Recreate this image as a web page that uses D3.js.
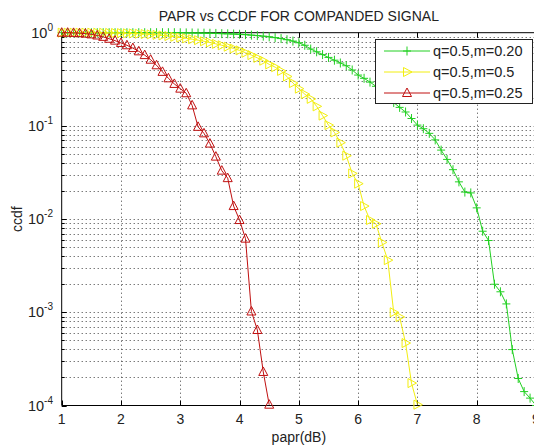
<!DOCTYPE html>
<html><head><meta charset="utf-8">
<script src="https://cdn.jsdelivr.net/npm/d3@7"></script>
<style>
html,body{margin:0;padding:0;background:#fff;overflow:hidden;}
svg{display:block;font-family:"Liberation Sans",Arial,sans-serif;}
</style></head>
<body><svg id="chart" width="534" height="445"></svg>
<script>
// ---- data ----
const titleText = "PAPR vs CCDF FOR COMPANDED SIGNAL";
const xLabelText = "papr(dB)";
const yLabelText = "ccdf";
const xTickValues = [1,2,3,4,5,6,7,8,9];
const yTickExponents = [0,-1,-2,-3,-4];
const seriesNames = ["q=0.5,m=0.20","q=0.5,m=0.5","q=0.5,m=0.25"];

const paprDb = [1.0,1.1,1.2,1.3,1.4,1.5,1.6,1.7,1.8,1.9,
  2.0,2.1,2.2,2.3,2.4,2.5,2.6,2.7,2.8,2.9,
  3.0,3.1,3.2,3.3,3.4,3.5,3.6,3.7,3.8,3.9,
  4.0,4.1,4.2,4.3,4.4,4.5,4.6,4.7,4.8,4.9,
  5.0,5.1,5.2,5.3,5.4,5.5,5.6,5.7,5.8,5.9,
  6.0,6.1,6.2,6.3,6.4,6.5,6.6,6.7,6.8,6.9,
  7.0,7.1,7.2,7.3,7.4,7.5,7.6,7.7,7.8,7.9,
  8.0,8.1,8.2,8.3,8.4,8.5,8.6,8.7,8.8,8.9,9.0];

const ccdfM020 = [1,1,1,1,1,1,1,1,1,1,
  1,1,1,1,1,1,1,1,1,1,
  0.998,0.995,0.993,0.991,0.989,0.986,0.982,0.977,0.973,0.968,
  0.962,0.953,0.942,0.931,0.918,0.904,0.885,0.865,0.841,0.813,
  0.780,0.733,0.668,0.624,0.582,0.543,0.507,0.473,0.442,0.398,
  0.351,0.324,0.295,0.266,0.229,0.200,0.178,0.158,0.141,0.120,
  0.102,0.0933,0.0832,0.0708,0.0550,0.0437,0.0339,0.0251,0.0195,0.0191,
  0.0132,0.00741,0.00589,0.00200,0.00166,0.00123,0.000398,0.000195,0.000141,0.000120,
  0.000100];

const ccdfM05 = [1,1,1,1,1,1,0.998,0.998,0.995,0.993,
  0.991,0.986,0.982,0.975,0.968,0.959,0.948,0.935,0.920,0.904,
  0.887,0.871,0.851,0.832,0.809,0.785,0.759,0.733,0.708,0.676,
  0.646,0.610,0.575,0.537,0.501,0.457,0.427,0.389,0.339,0.288,
  0.251,0.219,0.195,0.162,0.129,0.102,0.0851,0.0661,0.0479,0.0309,
  0.0240,0.0138,0.00977,0.00891,0.00562,0.00363,0.00100,0.000891,0.000468,0.000174,
  0.000102];

const ccdfM025 = [1,1,0.995,0.989,0.977,0.959,0.933,0.902,0.861,0.822,
  0.776,0.733,0.684,0.631,0.575,0.513,0.447,0.380,0.324,0.282,
  0.251,0.224,0.166,0.0977,0.0832,0.0646,0.0468,0.0331,0.0275,0.0138,
  0.00977,0.00617,0.00102,0.000646,0.000229,0.000102];

// ---- layout ----
const svg = d3.select("#chart");
const L = 61.7, R = 536, T = 32.7, B = 405.5;
const x = d3.scaleLinear().domain([1,9]).range([L,R]);
const y = d3.scaleLog().domain([1e-4,1]).range([B,T]);

const seriesDefs = [
  {name: seriesNames[0], values: ccdfM020, color: "#22d022", marker: "plus"},
  {name: seriesNames[1], values: ccdfM05,  color: "#f2ee10", marker: "right"},
  {name: seriesNames[2], values: ccdfM025, color: "#c01010", marker: "up"}
];

// grid
const grid = svg.append("g").attr("stroke","#111").attr("stroke-width",1)
  .attr("stroke-dasharray","1,3").attr("opacity",0.8);
xTickValues.slice(1).forEach(v=>{
  grid.append("line").attr("x1",Math.round(x(v))+0.5).attr("x2",Math.round(x(v))+0.5)
    .attr("y1",T).attr("y2",B);
});
const yGridVals = [];
for (let e=-4;e<0;e++) for (let m=1;m<=9;m++) yGridVals.push(m*Math.pow(10,e));
yGridVals.filter(v=>v>1e-4).forEach(v=>{
  grid.append("line").attr("x1",L).attr("x2",R)
    .attr("y1",Math.round(y(v))+0.5).attr("y2",Math.round(y(v))+0.5);
});

// axes box
const ax = svg.append("g").attr("stroke","#000").attr("stroke-width",1).attr("fill","none");
ax.append("line").attr("x1",L).attr("x2",R).attr("y1",B).attr("y2",B);
ax.append("line").attr("x1",L).attr("x2",R).attr("y1",T).attr("y2",T);
ax.append("line").attr("x1",L).attr("x2",L).attr("y1",T).attr("y2",B);
ax.append("line").attr("x1",R).attr("x2",R).attr("y1",T).attr("y2",B);
xTickValues.forEach(v=>{
  const px = Math.round(x(v))+0.5;
  ax.append("line").attr("x1",px).attr("x2",px).attr("y1",B).attr("y2",B-5);
  ax.append("line").attr("x1",px).attr("x2",px).attr("y1",T).attr("y2",T+5);
});
yGridVals.forEach(v=>{
  const major = Math.abs(Math.log10(v)-Math.round(Math.log10(v)))<1e-9;
  const py = Math.round(y(v))+0.5;
  ax.append("line").attr("x1",L).attr("x2",L+(major?5:3)).attr("y1",py).attr("y2",py);
});

// tick labels
const xl = svg.append("g").attr("font-size",14).attr("fill","#222").attr("text-anchor","middle");
xTickValues.forEach(v=>{
  xl.append("text").attr("x",x(v)).attr("y",B+18).text(v);
});
const yl = svg.append("g").attr("font-size",14.5).attr("fill","#222").attr("text-anchor","end");
yTickExponents.forEach(e=>{
  const t = yl.append("text").attr("x",53).attr("y",y(Math.pow(10,e))+5);
  t.append("tspan").text("10");
  t.append("tspan").attr("font-size",10).attr("dy",-7).text(String(e));
});

// labels
svg.append("text").attr("x",(L+R)/2).attr("y",21).attr("text-anchor","middle")
  .attr("font-size",14).attr("fill","#222").text(titleText);
svg.append("text").attr("x",(L+R)/2).attr("y",442).attr("text-anchor","middle")
  .attr("font-size",14).attr("fill","#222").text(xLabelText);
svg.append("text").attr("transform",`translate(22,${(T+B)/2}) rotate(-90)`)
  .attr("text-anchor","middle").attr("font-size",14).attr("fill","#222").text(yLabelText);

// markers
function drawMarker(g, kind, cx, cy, color){
  if (kind==="plus"){
    g.append("path").attr("d",`M${cx-4},${cy}H${cx+4}M${cx},${cy-4.5}V${cy+4.5}`)
      .attr("stroke",color).attr("stroke-width",1).attr("fill","none");
  } else if (kind==="up"){
    g.append("path").attr("d",`M${cx},${cy-5}L${cx+4.5},${cy+3.5}L${cx-4.5},${cy+3.5}Z`)
      .attr("stroke",color).attr("stroke-width",1).attr("fill","none");
  } else {
    g.append("path").attr("d",`M${cx+5},${cy}L${cx-3.5},${cy-4.5}L${cx-3.5},${cy+4.5}Z`)
      .attr("stroke",color).attr("stroke-width",1).attr("fill","none");
  }
}

const line = d3.line().x(d=>x(d[0])).y(d=>y(d[1]));
seriesDefs.forEach(s=>{
  const pts = s.values.map((v,i)=>[paprDb[i],v]).filter(d=>d[1]>0);
  const g = svg.append("g");
  g.append("path").datum(pts).attr("d",line).attr("fill","none")
    .attr("stroke",s.color).attr("stroke-width",1);
  pts.forEach(d=>drawMarker(g,s.marker,x(d[0]),y(d[1]),s.color));
});

// legend
const lg = svg.append("g");
lg.append("rect").attr("x",375.5).attr("y",39.5).attr("width",157).attr("height",64)
  .attr("fill","#fff").attr("stroke","#222").attr("stroke-width",1);
seriesDefs.forEach((s,i)=>{
  const ly = 51 + i*21;
  lg.append("line").attr("x1",384).attr("x2",430).attr("y1",ly).attr("y2",ly)
    .attr("stroke",s.color).attr("stroke-width",1);
  drawMarker(lg,s.marker,407,ly,s.color);
  lg.append("text").attr("x",433).attr("y",ly+5).attr("font-size",14.5).attr("fill","#222").text(s.name);
});
</script></body></html>
